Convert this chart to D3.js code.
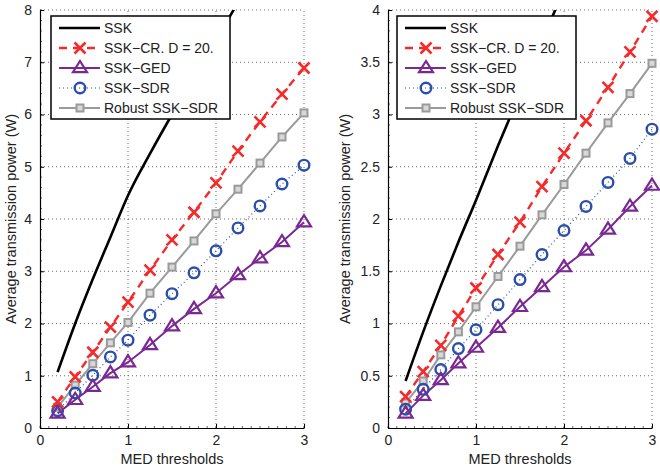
<!DOCTYPE html>
<html>
<head>
<meta charset="utf-8">
<script src="https://cdn.jsdelivr.net/npm/d3@7"></script>
<style>
  body { margin: 0; background: #fff; }
  text { font-family: "Liberation Sans", Arial, sans-serif; }
</style>
</head>
<body>
<div id="chart"></div>
<script>
// MED threshold values (x) shared by all curves
const thresholds = [0.2, 0.4, 0.6, 0.8, 1.0, 1.25, 1.5, 1.75, 2.0, 2.25, 2.5, 2.75, 3.0];
const seriesNames = ["SSK", "SSK\u2212CR. D = 20.", "SSK\u2212GED", "SSK\u2212SDR", "Robust SSK\u2212SDR"];

// left panel
const leftSSK    = [1.07, 2.0, 2.85, 3.65, 4.45, 5.25, 6.0, 6.72, 7.42, 8.15];
const leftCR     = [0.50, 0.98, 1.45, 1.93, 2.41, 3.02, 3.60, 4.13, 4.69, 5.30, 5.86, 6.39, 6.89];
const leftGED    = [0.28, 0.54, 0.79, 1.05, 1.26, 1.59, 1.95, 2.28, 2.58, 2.93, 3.25, 3.56, 3.94];
const leftSDR    = [0.33, 0.67, 1.01, 1.36, 1.68, 2.16, 2.57, 2.97, 3.39, 3.83, 4.25, 4.67, 5.03];
const leftRobust = [0.40, 0.82, 1.23, 1.63, 2.02, 2.58, 3.08, 3.58, 4.10, 4.57, 5.07, 5.57, 6.03];

// right panel
const rightSSK    = [0.45, 0.92, 1.36, 1.78, 2.18, 2.7, 3.2, 3.7, 4.2];
const rightCR     = [0.30, 0.54, 0.79, 1.07, 1.34, 1.66, 1.97, 2.31, 2.63, 2.94, 3.26, 3.60, 3.94];
const rightGED    = [0.14, 0.31, 0.46, 0.62, 0.77, 0.96, 1.16, 1.35, 1.54, 1.70, 1.90, 2.12, 2.32];
const rightSDR    = [0.18, 0.37, 0.56, 0.76, 0.94, 1.18, 1.42, 1.66, 1.89, 2.12, 2.35, 2.58, 2.86];
const rightRobust = [0.24, 0.45, 0.70, 0.92, 1.16, 1.45, 1.74, 2.04, 2.33, 2.63, 2.92, 3.20, 3.49];

const xTicks = [0, 1, 2, 3];
const leftYTicks = [0, 1, 2, 3, 4, 5, 6, 7, 8];
const rightYTicks = [0, 0.5, 1, 1.5, 2, 2.5, 3, 3.5, 4];

const colors = { ssk: "#000000", cr: "#f52a2a", ged: "#7a2892", sdr: "#2b4fa8", robust: "#9a9a9a" };

const svg = d3.select("#chart").append("svg")
    .attr("width", 660).attr("height", 468);

function panel(opts) {
    const x = d3.scaleLinear().domain([0, 3]).range([opts.x0, opts.x1]);
    const y = d3.scaleLinear().domain([0, opts.yMax]).range([428, 10]);
    const g = svg.append("g");

    // dotted grid
    g.selectAll(".gx").data(xTicks.slice(1)).enter().append("line")
        .attr("x1", d => x(d)).attr("x2", d => x(d)).attr("y1", y(0)).attr("y2", y(opts.yMax))
        .attr("stroke", "#444").attr("stroke-width", 0.8).attr("stroke-dasharray", "1,3");
    g.selectAll(".gy").data(opts.yTicks.slice(1)).enter().append("line")
        .attr("x1", x(0)).attr("x2", x(3)).attr("y1", d => y(d)).attr("y2", d => y(d))
        .attr("stroke", "#444").attr("stroke-width", 0.8).attr("stroke-dasharray", "1,3");

    // minor ticks
    g.selectAll(".mx").data(d3.range(0, 3.001, 0.1)).enter().append("line")
        .attr("x1", d => x(d)).attr("x2", d => x(d)).attr("y1", y(0)).attr("y2", y(0) - 2)
        .attr("stroke", "#000").attr("stroke-width", 0.6);
    g.selectAll(".my").data(d3.range(0, opts.yMax + 0.001, opts.minor)).enter().append("line")
        .attr("x1", x(0)).attr("x2", x(0) + 2).attr("y1", d => y(d)).attr("y2", d => y(d))
        .attr("stroke", "#000").attr("stroke-width", 0.6);

    // axes
    const xAxis = d3.axisBottom(x).tickValues(xTicks).tickSizeInner(-4).tickSizeOuter(0).tickPadding(7)
        .tickFormat(d3.format("d"));
    const yAxis = d3.axisLeft(y).tickValues(opts.yTicks).tickSizeInner(-4).tickSizeOuter(0).tickPadding(8)
        .tickFormat(d => String(d));
    const ax = g.append("g").attr("transform", `translate(0,${y(0)})`).call(xAxis);
    const ay = g.append("g").attr("transform", `translate(${x(0)},0)`).call(yAxis);
    [ax, ay].forEach(a => {
        a.select(".domain").attr("stroke-width", 1.2);
        a.selectAll("text").attr("font-size", 14).attr("fill", "#222")
            .style("font-family", "'Liberation Sans', Arial, sans-serif");
    });

    g.append("text").attr("x", (opts.x0 + opts.x1) / 2).attr("y", 464)
        .attr("text-anchor", "middle").attr("font-size", 14.5).attr("fill", "#222").text("MED thresholds");
    g.append("text").attr("transform", `translate(${opts.labelX},219) rotate(-90)`)
        .attr("text-anchor", "middle").attr("font-size", 14.5).attr("fill", "#222")
        .text("Average transmission power (W)");

    // clip
    const clipId = "clip" + opts.x0;
    svg.append("clipPath").attr("id", clipId).append("rect")
        .attr("x", opts.x0).attr("y", 10).attr("width", opts.x1 - opts.x0 + 10).attr("height", 420);
    const plot = g.append("g").attr("clip-path", `url(#${clipId})`);

    const line = d3.line().curve(d3.curveMonotoneX).x(d => x(d[0])).y(d => y(d[1]));
    const straight = d3.line().x(d => x(d[0])).y(d => y(d[1]));
    const pts = vals => vals.map((v, i) => [thresholds[i], v]);

    plot.append("path").datum(pts(opts.ssk)).attr("d", line)
        .attr("fill", "none").attr("stroke", colors.ssk).attr("stroke-width", 2.6);
    plot.append("path").datum(pts(opts.robust)).attr("d", straight)
        .attr("fill", "none").attr("stroke", colors.robust).attr("stroke-width", 2);
    plot.append("path").datum(pts(opts.sdr)).attr("d", straight)
        .attr("fill", "none").attr("stroke", colors.sdr).attr("stroke-width", 1.2).attr("stroke-dasharray", "1,3");
    plot.append("path").datum(pts(opts.ged)).attr("d", straight)
        .attr("fill", "none").attr("stroke", colors.ged).attr("stroke-width", 2);
    plot.append("path").datum(pts(opts.cr)).attr("d", straight)
        .attr("fill", "none").attr("stroke", colors.cr).attr("stroke-width", 2.4).attr("stroke-dasharray", "8,6");

    pts(opts.robust).forEach(p => drawMarker(plot, "square", x(p[0]), y(p[1])));
    pts(opts.sdr).forEach(p => drawMarker(plot, "circle", x(p[0]), y(p[1])));
    pts(opts.ged).forEach(p => drawMarker(plot, "triangle", x(p[0]), y(p[1])));
    pts(opts.cr).forEach(p => drawMarker(plot, "cross", x(p[0]), y(p[1])));

    // legend
    const lx = opts.legendX, ly = 16;
    const lg = g.append("g");
    lg.append("rect").attr("x", lx).attr("y", ly).attr("width", 179).attr("height", 103)
        .attr("fill", "#fff").attr("stroke", "#000").attr("stroke-width", 1.5);
    const styles = [
        { c: colors.ssk, w: 2.6, dash: null, m: null },
        { c: colors.cr, w: 2.4, dash: "8,6", m: "cross" },
        { c: colors.ged, w: 2, dash: null, m: "triangle" },
        { c: colors.sdr, w: 1.2, dash: "1,3", m: "circle" },
        { c: colors.robust, w: 2, dash: null, m: "square" }
    ];
    seriesNames.forEach((name, i) => {
        const yy = ly + 12 + i * 20;
        lg.append("line").attr("x1", lx + 8).attr("x2", lx + 49).attr("y1", yy).attr("y2", yy)
            .attr("stroke", styles[i].c).attr("stroke-width", styles[i].w)
            .attr("stroke-dasharray", styles[i].dash);
        if (styles[i].m) drawMarker(lg, styles[i].m, lx + 29, yy);
        lg.append("text").attr("x", lx + 53).attr("y", yy + 5).attr("font-size", 14)
            .attr("fill", "#222").text(name);
    });
}

function drawMarker(sel, type, cx, cy) {
    if (type === "cross") {
        const s = 5.5;
        sel.append("path").attr("d", `M${cx - s},${cy - s}L${cx + s},${cy + s}M${cx - s},${cy + s}L${cx + s},${cy - s}`)
            .attr("stroke", colors.cr).attr("stroke-width", 2.6).attr("fill", "none");
    } else if (type === "circle") {
        sel.append("circle").attr("cx", cx).attr("cy", cy).attr("r", 5.3)
            .attr("fill", "none").attr("stroke", colors.sdr).attr("stroke-width", 2.4);
    } else if (type === "triangle") {
        const s = 7;
        sel.append("path").attr("d", `M${cx},${cy - s}L${cx + s},${cy + s * 0.6}L${cx - s},${cy + s * 0.6}Z`)
            .attr("fill", "none").attr("stroke", colors.ged).attr("stroke-width", 2.2);
    } else if (type === "square") {
        sel.append("rect").attr("x", cx - 3.5).attr("y", cy - 3.5).attr("width", 7).attr("height", 7)
            .attr("fill", "#d8d8d8").attr("stroke", colors.robust).attr("stroke-width", 2);
    }
}

panel({ x0: 40, x1: 304, yMax: 8, yTicks: leftYTicks, minor: 0.2, labelX: 16, legendX: 51,
        ssk: leftSSK, cr: leftCR, ged: leftGED, sdr: leftSDR, robust: leftRobust });
panel({ x0: 388, x1: 652, yMax: 4, yTicks: rightYTicks, minor: 0.1, labelX: 350, legendX: 397,
        ssk: rightSSK, cr: rightCR, ged: rightGED, sdr: rightSDR, robust: rightRobust });
</script>
</body>
</html>
